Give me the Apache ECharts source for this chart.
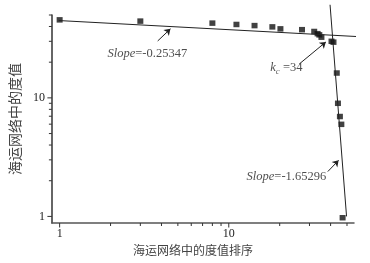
<!DOCTYPE html>
<html><head><meta charset="utf-8">
<script src="https://cdn.jsdelivr.net/npm/echarts@6/dist/echarts.min.js"></script>
<style>html,body{margin:0;padding:0;background:#fff}#c{width:370px;height:263px}</style>
</head><body><div id="c"></div>
<script>
// ---- data (log-log) ----
const rankX   = [1, 3, 8, 11.1, 14.2, 18.1, 20.2, 27.1, 32, 33.5, 34.3, 35.3, 40.5, 41.6, 43.5, 44.2, 45.4, 46.3, 47.1];
const degreeY = [45.5, 44.4, 42.7, 41.6, 40.7, 39.7, 38.2, 37.6, 36.3, 34.8, 34, 32.5, 30, 29.5, 16.2, 9.0, 6.96, 5.98, 0.975];
const fit1X = [0.987, 57.3];
const fit1Y = [44.9, 32.9];
const fit2X = [39.7, 49.7];
const fit2Y = [61, 1.0];
const xTickValues = [1, 2, 3, 4, 5, 6, 7, 8, 9, 10, 20, 30, 40, 50];
const yTickValues = [1, 2, 3, 4, 5, 6, 7, 8, 9, 10, 20, 30, 40, 50];
const majorTicks = [1, 10];
const xTitle = '海运网络中的度值排序';
const yTitle = '海运网络中的度值';
const noteTexts = ['{i|Slope}{n|=-0.25347}', '{i|k}{s|c}{n| =34}', '{i|Slope}{n|=-1.65296}'];
const noteAnchors = [[3.30, 23.6], [21.9, 18.0], [21.9, 2.18]];
const arrowFrom = [[3.80, 30.2], [26.1, 19.3], [38.5, 2.39]];
const arrowTo   = [[4.52, 38.2], [37.5, 29.6], [44.6, 2.97]];

const X_MIN = 0.9, X_MAX = 55, Y_MIN = 0.88, Y_MAX = 50;
const SERIF = 'Liberation Serif';
const CJK = 'Noto Sans CJK SC';

const tickData = [];
xTickValues.forEach(v => tickData.push([v, 1, 0, majorTicks.includes(v) ? 1 : 0]));
yTickValues.forEach(v => tickData.push([1, v, 1, majorTicks.includes(v) ? 1 : 0]));

const chart = echarts.init(document.getElementById('c'), null, {renderer: 'canvas'});
const fmt = v => String(+(+v).toPrecision(6));
chart.setOption({
  animation: false,
  backgroundColor: '#fff',
  grid: {left: 47, right: 16, top: 15, bottom: 40, containLabel: false},
  xAxis: {
    type: 'log', logBase: 10, min: X_MIN, max: X_MAX,
    axisLine: {show: true, lineStyle: {color: '#555', width: 1.5}},
    axisTick: {show: false},
    splitLine: {show: false},
    axisLabel: {show: true, showMinLabel: false, showMaxLabel: false, formatter: fmt,
      fontFamily: SERIF, fontSize: 12, color: '#222', margin: 5},
    name: xTitle, nameLocation: 'middle', nameGap: 18,
    nameTextStyle: {fontFamily: CJK, fontSize: 12, color: '#444', padding: [0, 20, 0, 0]}
  },
  yAxis: {
    type: 'log', logBase: 10, min: Y_MIN, max: Y_MAX,
    axisLine: {show: true, lineStyle: {color: '#333', width: 1.5}},
    axisTick: {show: false},
    splitLine: {show: false},
    axisLabel: {show: true, showMinLabel: false, showMaxLabel: false, formatter: fmt,
      fontFamily: SERIF, fontSize: 12, color: '#222', margin: 7},
    name: yTitle, nameLocation: 'middle', nameRotate: 90, nameGap: 22,
    nameTextStyle: {fontFamily: CJK, fontSize: 14, color: '#444'}
  },
  series: [
    {
      type: 'custom', coordinateSystem: 'cartesian2d', clip: false, silent: true,
      data: tickData,
      renderItem: function (params, api) {
        const p = api.coord([api.value(0), api.value(1)]);
        const cs = params.coordSys;
        const len = api.value(3) ? 4.5 : 3;
        if (!api.value(2)) {
          const y0 = cs.y + cs.height;
          return {type: 'line', shape: {x1: p[0], y1: y0, x2: p[0], y2: y0 + len},
            style: {stroke: '#333', lineWidth: 1}};
        }
        const x0 = cs.x;
        return {type: 'line', shape: {x1: x0, y1: p[1], x2: x0 - len, y2: p[1]},
          style: {stroke: '#333', lineWidth: 1}};
      }
    },
    {
      type: 'line', clip: false, showSymbol: false, silent: true,
      data: fit1X.map((x, i) => [x, fit1Y[i]]),
      lineStyle: {color: '#222', width: 1}
    },
    {
      type: 'line', clip: false, showSymbol: false, silent: true,
      data: fit2X.map((x, i) => [x, fit2Y[i]]),
      lineStyle: {color: '#222', width: 1}
    },
    {
      type: 'scatter', symbol: 'rect', symbolSize: [6, 5.5], clip: false,
      data: rankX.map((x, i) => [x, degreeY[i]]),
      itemStyle: {color: '#111'}
    },
    {
      type: 'lines', coordinateSystem: 'cartesian2d', silent: true,
      symbol: ['none', 'arrow'], symbolSize: 6,
      data: arrowFrom.map((a, i) => ({coords: [a, arrowTo[i]]})),
      lineStyle: {color: '#222', width: 1, opacity: 1}
    },
    {
      type: 'scatter', symbol: 'circle', symbolSize: 1, silent: true, clip: false,
      itemStyle: {color: 'rgba(0,0,0,0)'},
      data: noteAnchors.map((a, i) => ({value: a, label: {formatter: noteTexts[i]}})),
      label: {
        show: true, position: 'inside',
        rich: {
          i: {fontFamily: SERIF, fontStyle: 'italic', fontSize: 12.5, color: '#222'},
          n: {fontFamily: SERIF, fontSize: 12.5, color: '#222'},
          s: {fontFamily: SERIF, fontStyle: 'italic', fontSize: 9, color: '#444', padding: [9, 0, 0, 0], verticalAlign: 'bottom'}
        }
      }
    }
  ]
});
</script>
</body></html>
